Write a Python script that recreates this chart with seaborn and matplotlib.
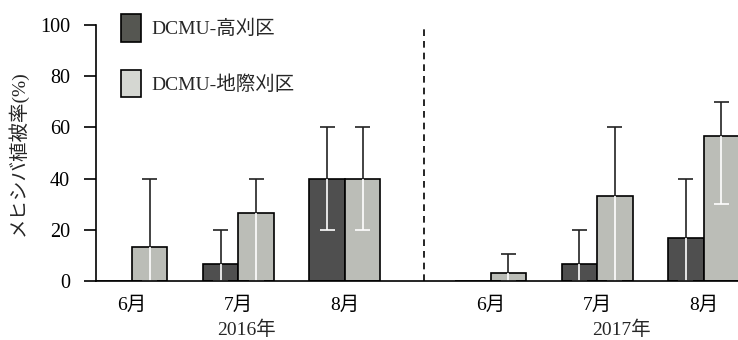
import matplotlib
matplotlib.use("Agg")
import matplotlib.pyplot as plt
import matplotlib.transforms as mtransforms
from matplotlib.patches import Patch
import numpy as np
import pandas as pd
import seaborn as sns

# ---- data -------------------------------------------------------------
months = ["6月", "7月", "8月"]
years = ["2016年", "2017年"]
treatments = ["DCMU-高刈区", "DCMU-地際刈区"]

# mean cover (%) per month, 2016 then 2017
high_mean = [0.0, 6.7, 40.0, 0.0, 6.7, 16.7]
ground_mean = [13.3, 26.7, 40.0, 3.3, 33.3, 56.7]
# upper / lower ends of the range bars
high_upper = [0.0, 20.0, 60.0, 0.0, 20.0, 40.0]
high_lower = [0.0, 0.0, 20.0, 0.0, 0.0, 0.0]
ground_upper = [40.0, 40.0, 60.0, 10.4, 60.0, 70.0]
ground_lower = [0.0, 0.0, 20.0, 0.0, 0.0, 30.0]

yticks = [0, 20, 40, 60, 80, 100]

# ---- style --------------------------------------------------------------
sns.set_style("ticks")
plt.rcParams["font.family"] = ["Liberation Serif", "Noto Sans CJK JP"]
plt.rcParams["axes.unicode_minus"] = False

DARK = "#4f4f4f"
LIGHT = "#bbbdb7"
LEG_DARK = "#555651"
LEG_LIGHT = "#d5d7d2"
ERR = "#222222"
FS = 14

# numeric positions: a wider gap separates the two years
YEAR_GAP = 0.37
pos = [m + y * (len(months) + YEAR_GAP) for y in range(len(years)) for m in range(len(months))]

df = pd.DataFrame({
    "pos": pos * 2,
    "treatment": [treatments[0]] * len(pos) + [treatments[1]] * len(pos),
    "value": high_mean + ground_mean,
})

fig = plt.figure(figsize=(7.38, 3.40), dpi=100)
ax = fig.add_axes([96 / 738, 59 / 340, 664 / 738, 256 / 340])

sns.barplot(
    data=df, x="pos", y="value", hue="treatment", hue_order=treatments,
    palette=[DARK, LIGHT], saturation=1, native_scale=True, width=0.667,
    edgecolor="black", linewidth=1.2, errorbar=None, legend=False, ax=ax,
)

# range bars: dark part above the bar top, white part inside the bar
cap = 0.07
for cont, means, ups, lows in zip(ax.containers,
                                  [high_mean, ground_mean],
                                  [high_upper, ground_upper],
                                  [high_lower, ground_lower]):
    for bar, m, u, l in zip(cont, means, ups, lows):
        if m <= 0:
            continue
        x = bar.get_x() + bar.get_width() / 2
        ax.vlines(x, m, u, color=ERR, lw=1.2, zorder=4)
        ax.hlines(u, x - cap, x + cap, color=ERR, lw=1.2, zorder=4)
        ax.vlines(x, l, m, color="white", lw=1.2, zorder=2.2)
        ax.hlines(l, x - cap, x + cap, color="white", lw=1.2, zorder=2.2)

# dashed divider between the years
ax.axvline(2.74, ymin=0, ymax=1, color="black", lw=1.2, ls=(0, (4, 3)), zorder=1)

ax.set_xlim(-0.338, 5.9)
ax.set_ylim(0, 100)
ax.set_yticks(yticks)
ax.set_yticklabels([str(t) for t in yticks])
ax.set_xticks(pos)
ax.set_xticklabels(months * len(years))
ax.tick_params(axis="y", direction="out", length=8.6, width=1.2, pad=10,
               labelsize=14.5, colors="black")
ax.tick_params(axis="x", length=0, pad=11, labelsize=FS, colors="black")
ax.set_xlabel("")
ax.set_ylabel("メヒシバ植被率(%)", fontsize=FS)
ax.yaxis.set_label_coords(-0.102, 0.5)

for side in ["top", "right"]:
    ax.spines[side].set_visible(False)
for side in ["left", "bottom"]:
    ax.spines[side].set_linewidth(1.2)
    ax.spines[side].set_color("black")

# year captions under the month labels
trans = mtransforms.blended_transform_factory(ax.transData, fig.transFigure)
for xc, yr in zip([1.08, 4.6], years):
    ax.text(xc, 1 - 330 / 340, yr, transform=trans, ha="center", va="center", fontsize=FS)

handles = [Patch(facecolor=LEG_DARK, edgecolor="black", lw=1.2),
           Patch(facecolor=LEG_LIGHT, edgecolor="black", lw=1.2)]
fig.legend(handles, treatments, loc="upper left",
           bbox_to_anchor=(121 / 738, 1 - 14 / 340), frameon=False,
           borderpad=0, borderaxespad=0, handlelength=1.03, handleheight=1.8,
           labelspacing=1.44, handletextpad=0.55, fontsize=FS)

fig.savefig("out.png", dpi=100)
